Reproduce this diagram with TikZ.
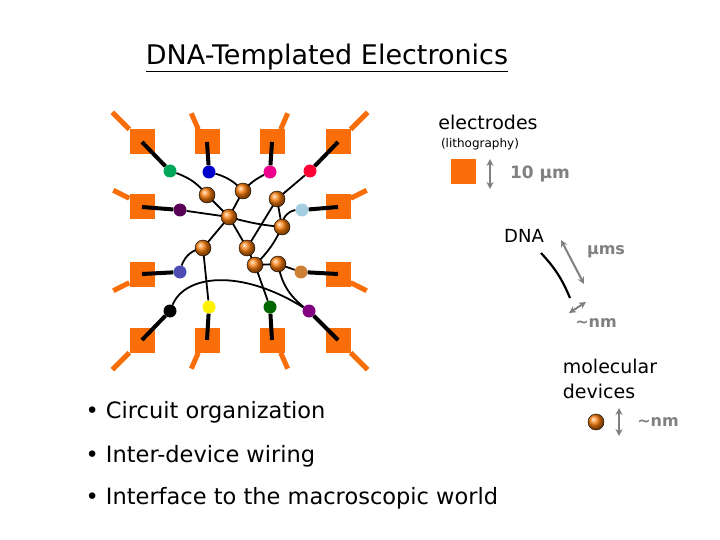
\documentclass[tikz,border=0pt]{standalone}
\usepackage{fontspec}
\setmainfont{DejaVu Sans}
\usepackage{tikz}
\usetikzlibrary{arrows.meta}
\definecolor{pad}{RGB}{250,110,10}
\definecolor{gr}{RGB}{128,128,128}

\begin{document}
\begin{tikzpicture}[x=1pt, y=-1pt,
    electrode/.style={rectangle, fill=pad, minimum size=25pt, inner sep=0pt},
    lead/.style={pad, line width=5pt},
    stub/.style={black, line width=4pt},
    dot/.style={circle, minimum size=13pt, inner sep=0pt},
    device/.style={circle, draw=black, shading=ball, ball color=pad!90!yellow, minimum size=16pt, inner sep=0pt},
    wire/.style={black, line width=1.8pt},
    scalebar/.style={gr, line width=2pt, {Stealth[length=7pt,width=7pt]}-{Stealth[length=7pt,width=7pt]}},
    txt/.style={font=\fontsize{22.5}{26}\selectfont, anchor=west}
]
    \useasboundingbox (0,0) rectangle (720,540);

    % Title
    \node[font=\fontsize{27}{30}\selectfont] (title) at (327,58) {\underline{DNA-Templated Electronics}};

    % Electrode pads
    \foreach \n/\x/\y in {a/142/142, b/207/142, c/272/142, d/338/142,
                          e/142/207, f/338/207, g/142/274, h/338/274,
                          i/142/340, j/207/340, k/272/340, l/338/340}
        \node[electrode] (p\n) at (\x,\y) {};

    % Lithographic leads
    \draw[lead] (pa.north west) -- ++(-17,-17);
    \draw[lead] ([xshift=4pt]pb.north west) -- ++(-7,-16);
    \draw[lead] ([xshift=-4pt]pc.north east) -- ++(7,-16);
    \draw[lead] (pd.north east) -- ++(17,-17);
    \draw[lead] ([yshift=-4pt]pe.north west) -- ++(-16,-8);
    \draw[lead] ([yshift=-4pt]pf.north east) -- ++(16,-8);
    \draw[lead] ([yshift=4pt]pg.south west) -- ++(-16,8);
    \draw[lead] ([yshift=4pt]ph.south east) -- ++(16,8);
    \draw[lead] (pi.south west) -- ++(-17,17);
    \draw[lead] ([xshift=4pt]pj.south west) -- ++(-7,16);
    \draw[lead] ([xshift=-4pt]pk.south east) -- ++(7,16);
    \draw[lead] (pl.south east) -- ++(17,17);

    % Contact dots
    \node[dot, fill=teal!70!green] (ca) at (170,171) {};
    \node[dot, fill=blue!80!black] (cb) at (209,172) {};
    \node[dot, fill=magenta] (cc) at (270,172) {};
    \node[dot, fill=red!80!magenta] (cd) at (310,171) {};
    \node[dot, fill=violet!70!black] (ce) at (180,210) {};
    \node[dot, fill=cyan!40!teal!40] (cf) at (302,210) {};
    \node[dot, fill=blue!40!gray] (cg) at (180,272) {};
    \node[dot, fill=brown!80!orange] (ch) at (301,272) {};
    \node[dot, fill=black] (ci) at (170,311) {};
    \node[dot, fill=yellow] (cj) at (209,307) {};
    \node[dot, fill=green!40!black] (ck) at (270,307) {};
    \node[dot, fill=violet] (cl) at (309,311) {};

    \foreach \n in {a,b,c,d,e,f,g,h,i,j,k,l}
        \draw[stub] (p\n.center) -- (c\n);

    % DNA wiring
    \draw[wire] (ca) to[bend left=15] (207,195);
    \draw[wire] (cb) to[bend left=15] (243,191);
    \draw[wire] (cc) to[bend right=10] (243,191);
    \draw[wire] (cd) -- (277,199);
    \draw[wire] (ce) -- (229,217);
    \draw[wire] (cf) to[bend right=40] (282,227);
    \draw[wire] (207,195) -- (229,217) -- (243,191);
    \draw[wire] (229,217) to[bend right=5] (282,227);
    \draw[wire] (277,199) -- (282,227);
    \draw[wire] (277,199) -- (247,248);
    \draw[wire] (229,217) -- (203,248);
    \draw[wire] (229,217) -- (247,248) -- (255,265);
    \draw[wire] (282,227) to[bend left=10] (255,265);
    \draw[wire] (255,265) -- (278,264);
    \draw[wire] (203,248) to[bend right=30] (cg);
    \draw[wire] (203,248) -- (cj);
    \draw[wire] (255,265) -- (ck);
    \draw[wire] (278,264) -- (ch);
    \draw[wire] (278,264) to[bend right=20] (cl);
    \draw[wire] (ci) .. controls (185,275) and (240,268) .. (cl);

    % Molecular devices
    \node[device] (m1) at (207,195) {};
    \node[device] (m2) at (243,191) {};
    \node[device] (m3) at (277,199) {};
    \node[device] (m4) at (229,217) {};
    \node[device] (m5) at (282,227) {};
    \node[device] (m6) at (203,248) {};
    \node[device] (m7) at (247,248) {};
    \node[device] (m8) at (255,265) {};
    \node[device] (m9) at (278,264) {};

    % Legend
    \node[font=\fontsize{19}{22}\selectfont] (lbelec) at (488,122) {electrodes};
    \node[font=\fontsize{12}{14}\selectfont] (lblith) at (480,144) {(lithography)};
    \node[electrode] (legpad) at (463,172) {};
    \coordinate (s1a) at (490,159);
    \coordinate (s1b) at (490,189);
    \draw[scalebar] (s1a) -- (s1b);
    \node[gr, font=\fontsize{17}{20}\selectfont\bfseries] (lbten) at (540,174) {10 μm};

    \node[font=\fontsize{18}{22}\selectfont] (lbdna) at (524,236) {DNA};
    \coordinate (d1) at (541,253);
    \coordinate (d2) at (570,298);
    \draw[black, line width=2.2pt] (d1) to[bend left=10] (d2);
    \coordinate (s2a) at (561,240);
    \coordinate (s2b) at (584,284);
    \draw[scalebar] (s2a) -- (s2b);
    \node[gr, font=\fontsize{16}{19}\selectfont\bfseries] (lbums) at (606,252) {μms};
    \coordinate (s3a) at (569,313);
    \coordinate (s3b) at (586,302);
    \draw[scalebar] (s3a) -- (s3b);
    \node[gr, font=\fontsize{16}{19}\selectfont\bfseries] (lbnm) at (596,323) {\textasciitilde nm};

    \node[font=\fontsize{19}{25}\selectfont, align=left] (lbmol) at (610,379) {molecular\\devices};
    \node[device] (legdev) at (596,422) {};
    \coordinate (s4a) at (619,408);
    \coordinate (s4b) at (619,436);
    \draw[scalebar] (s4a) -- (s4b);
    \node[gr, font=\fontsize{16}{19}\selectfont\bfseries] (lbnm2) at (658,422) {\textasciitilde nm};

    % Bullets
    \node[txt] (b1) at (82,412) {\textbullet\ Circuit organization};
    \node[txt] (b2) at (82,456) {\textbullet\ Inter-device wiring};
    \node[txt] (b3) at (82,498) {\textbullet\ Interface to the macroscopic world};
\end{tikzpicture}
\end{document}
